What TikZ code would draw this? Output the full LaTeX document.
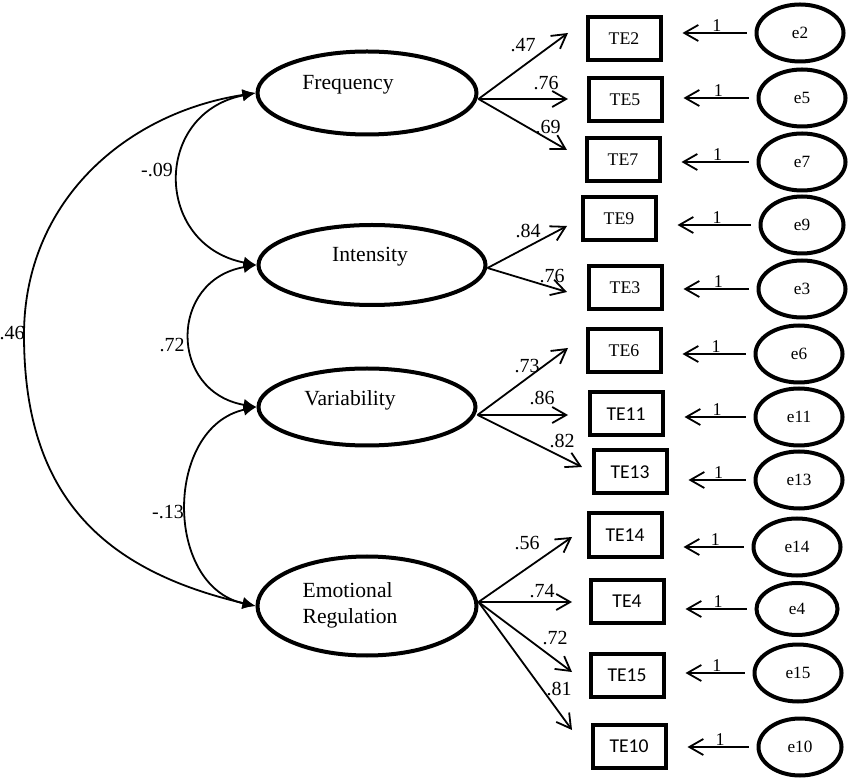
\documentclass[tikz,border=0pt]{standalone}
\usepackage{fontspec}
\setmainfont{Liberation Serif}
\newfontfamily\carlito{Carlito}
\usetikzlibrary{arrows.meta,shapes.geometric}
\begin{document}
\begin{tikzpicture}[x=0.5pt,y=-0.5pt,
  latent/.style={draw, line width=2pt, ellipse, inner sep=0pt},
  obs/.style={draw, line width=2pt, rectangle, minimum width=36.5pt, minimum height=21.5pt, inner sep=0pt, font=\fontsize{8.9}{10}\selectfont},
  obssans/.style={obs, font=\fontsize{9.8}{11}\selectfont\carlito},
  err/.style={draw, line width=2pt, ellipse, minimum width=43.5pt, minimum height=28.5pt, inner sep=0pt, font=\fontsize{8.6}{10}\selectfont},
  load/.style={line width=0.9pt, -{Straight Barb[length=7pt,width=8pt]}},
  erra/.style={line width=0.9pt, -{Straight Barb[length=7pt,width=8pt]}, shorten <=4pt, shorten >=10pt},
  cov/.style={line width=0.9pt, {Latex[length=6.5pt,width=6pt]}-{Latex[length=6.5pt,width=6pt]}},
  coef/.style={font=\fontsize{10}{11}\selectfont, inner sep=0pt},
  one/.style={font=\fontsize{9}{10}\selectfont, inner sep=0.5pt, above},
  lt/.style={font=\fontsize{10.8}{13}\selectfont}
]
\useasboundingbox (0,0) rectangle (850,779);

% latent variables
\node[latent, minimum width=109.5pt, minimum height=41.5pt,
  label={[lt, xshift=-9.5pt, yshift=4pt]center:Frequency}] (F) at (367,93) {};
\node[latent, minimum width=113.5pt, minimum height=40pt,
  label={[lt, xshift=-1pt, yshift=4pt]center:Intensity}] (I) at (372,265) {};
\node[latent, minimum width=108.5pt, minimum height=38.5pt,
  label={[lt, xshift=-8.5pt, yshift=3.5pt]center:Variability}] (V) at (367,407) {};
\node[latent, minimum width=109.5pt, minimum height=49.5pt,
  label={[lt, align=left, xshift=-8.5pt, yshift=0.5pt]center:{Emotional\\Regulation}}] (E) at (367,606) {};

% observed variables
\node[obs] (TE2) at (624,39) {TE2};
\node[obs] (TE5) at (625,100) {TE5};
\node[obs] (TE7) at (623,160) {TE7};
\node[obs] (TE9) at (619,219) {TE9};
\node[obs] (TE3) at (625,288) {TE3};
\node[obs] (TE6) at (624,351) {TE6};
\node[obssans] (TE11) at (626,414) {TE11};
\node[obssans] (TE13) at (630,472) {TE13};
\node[obssans] (TE14) at (625,535) {TE14};
\node[obssans] (TE4) at (627,601) {TE4};
\node[obssans] (TE15) at (627,675) {TE15};
\node[obssans] (TE10) at (629,746) {TE10};

% error terms
\node[err] (e2) at (800,33) {e2};
\node[err] (e5) at (802,98) {e5};
\node[err] (e7) at (802,162) {e7};
\node[err, minimum width=41.5pt] (e9) at (802,225) {e9};
\node[err] (e3) at (802,289) {e3};
\node[err] (e6) at (799,354) {e6};
\node[err] (e11) at (799,417) {e11};
\node[err] (e13) at (799,480) {e13};
\node[err] (e14) at (797,547) {e14};
\node[err, minimum width=40.5pt, minimum height=26pt] (e4) at (797,609) {e4};
\node[err] (e15) at (798,673) {e15};
\node[err, minimum width=41.5pt] (e10) at (800,747) {e10};

% error arrows
\foreach \e/\t in {e2/TE2,e5/TE5,e7/TE7,e9/TE9,e3/TE3,e6/TE6,e11/TE11,e13/TE13,e14/TE14,e4/TE4,e15/TE15,e10/TE10}{
  \draw[erra] (\e.west) -- (\e.west -| \t.east) node[one, pos=0.41] {1};
}

% loading arrow tips
\coordinate (t47) at (568,33);
\coordinate (t76a) at (568,99);
\coordinate (t69) at (567,150);
\coordinate (t84) at (567,226);
\coordinate (t76b) at (567,292);
\coordinate (t73) at (568,348);
\coordinate (t86) at (568,415);
\coordinate (t82) at (582,467);
\coordinate (t56) at (572,537);
\coordinate (t74) at (572,602);
\coordinate (t72) at (572,672);
\coordinate (t81) at (572,730);

\coordinate (Fo) at ([yshift=-3pt]F.east);
\coordinate (Io) at ([yshift=-1.5pt]I.east);
\coordinate (Vo) at ([yshift=-4pt]V.east);
\coordinate (Eo) at ([yshift=2pt]E.east);

\draw[load] (Fo) -- (t47);
\draw[load] (Fo) -- (t76a);
\draw[load] (Fo) -- (t69);
\draw[load] (Io) -- (t84);
\draw[load] (Io) -- (t76b);
\draw[load] (Vo) -- (t73);
\draw[load] (Vo) -- (t86);
\draw[load] (Vo) -- (t82);
\draw[load] (Eo) -- (t56);
\draw[load] (Eo) -- (t74);
\draw[load] (Eo) -- (t72);
\draw[load] (Eo) -- (t81);

\node[coef] (c47) at (523,45) {.47};
\node[coef] (c76a) at (546,83) {.76};
\node[coef] (c69) at (548,127) {.69};
\node[coef] (c84) at (528,231) {.84};
\node[coef] (c76b) at (552,276) {.76};
\node[coef] (c73) at (527,366) {.73};
\node[coef] (c86) at (542,398) {.86};
\node[coef] (c82) at (562,441) {.82};
\node[coef] (c56) at (527,543) {.56};
\node[coef] (c74) at (542,591) {.74};
\node[coef] (c72) at (555,638) {.72};
\node[coef] (c81) at (559,689) {.81};

% covariances
\coordinate (m46) at (24,335);
\draw[cov] (F.west) .. controls +(-103,20) and +(-103,-20) .. (I.west);
\draw[cov] (I.west) .. controls +(-88,15) and +(-88,-15) .. (V.west);
\draw[cov] (V.west) .. controls +(-92,20) and +(-92,-20) .. (E.west);
\draw[cov] (F.west) .. controls (125,113) and (24,202) .. (m46)
                    .. controls (24,495) and (102,570) .. (E.west);

\node[coef] (k09) at (157,170) {-.09};
\node[coef] (k72) at (172,345) {.72};
\node[coef] (k13) at (168,512) {-.13};
\node[coef] (k46) at (12,333) {.46};
\end{tikzpicture}
\end{document}
